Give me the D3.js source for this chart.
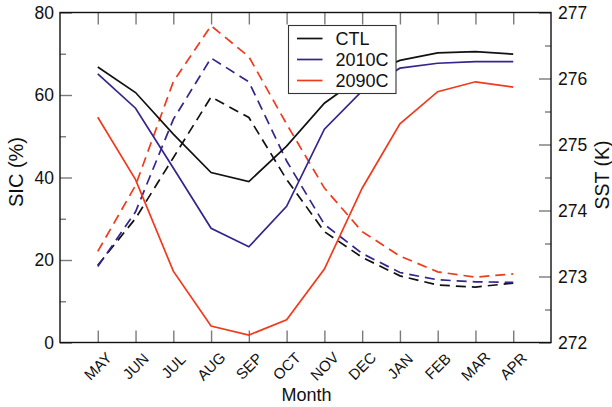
<!DOCTYPE html>
<html>
<head>
<meta charset="utf-8">
<script src="https://cdn.jsdelivr.net/npm/d3@7"></script>
<style>
  html, body { margin: 0; padding: 0; background: #fff; }
  svg { display: block; font-family: "Liberation Sans", Arial, Helvetica, sans-serif; }
</style>
</head>
<body>
<script>
const months = ["MAY","JUN","JUL","AUG","SEP","OCT","NOV","DEC","JAN","FEB","MAR","APR"];
const seriesNames = ["CTL","2010C","2090C"];
const sicCTL  = [66.8, 60.6, 50.5, 41.2, 39.0, 47.6, 58.0, 64.6, 68.4, 70.2, 70.5, 69.9];
const sic2010 = [65.1, 56.8, 42.3, 27.7, 23.2, 33.0, 51.7, 61.0, 66.5, 67.7, 68.1, 68.1];
const sic2090 = [54.6, 39.5, 17.3, 4.0, 1.8, 5.5, 17.8, 37.4, 53.0, 60.8, 63.2, 61.9];
const sstCTL  = [273.17, 273.88, 274.80, 275.72, 275.41, 274.47, 273.68, 273.29, 273.01, 272.87, 272.84, 272.90];
const sst2010 = [273.15, 273.98, 275.38, 276.31, 275.95, 274.75, 273.79, 273.35, 273.06, 272.95, 272.92, 272.91];
const sst2090 = [273.38, 274.38, 275.95, 276.80, 276.33, 275.31, 274.34, 273.68, 273.31, 273.07, 272.99, 273.04];
const sicTicks = [0, 20, 40, 60, 80];
const sicMinor = [10, 30, 50, 70];
const sstTicks = [272, 273, 274, 275, 276, 277];
const sstMinor = [272.5, 273.5, 274.5, 275.5, 276.5];
const colors = ["#111111", "#36238c", "#f03a1c"];

const W = 612, H = 407;
const L = 60, R = 551, T = 12.5, B = 342.5;

const svg = d3.select("body").append("svg").attr("width", W).attr("height", H);

const x = d3.scalePoint().domain(months).range([L, R]).padding(1);
const yL = d3.scaleLinear().domain([0, 80]).range([B, T]);
const yR = d3.scaleLinear().domain([272, 277]).range([B, T]);

const tickColor = "#7a7a7a";
function styleAxis(g) {
  g.select(".domain").remove();
  g.selectAll(".tick line").attr("stroke", tickColor).attr("stroke-width", 1.4);
  g.selectAll(".tick text").attr("fill", "#111").attr("font-size", 17.5)
    .attr("font-family", "'Liberation Sans', Arial, sans-serif");
}

// Left axis
svg.append("g").attr("transform", `translate(${L},0)`)
  .call(d3.axisLeft(yL).tickValues(sicTicks).tickSizeInner(-12).tickSizeOuter(0).tickPadding(6))
  .call(styleAxis);
svg.append("g").attr("transform", `translate(${L},0)`)
  .call(d3.axisLeft(yL).tickValues(sicMinor).tickSizeInner(-6).tickSizeOuter(0).tickFormat(""))
  .call(styleAxis);

// Right axis
svg.append("g").attr("transform", `translate(${R},0)`)
  .call(d3.axisRight(yR).tickValues(sstTicks).tickSizeInner(-12).tickSizeOuter(0).tickPadding(7).tickFormat(d3.format("d")))
  .call(styleAxis);
svg.append("g").attr("transform", `translate(${R},0)`)
  .call(d3.axisRight(yR).tickValues(sstMinor).tickSizeInner(-6).tickSizeOuter(0).tickFormat(""))
  .call(styleAxis);

// Bottom & top x ticks
svg.append("g").attr("transform", `translate(0,${B})`)
  .call(d3.axisBottom(x).tickSizeInner(-12).tickSizeOuter(0).tickFormat(""))
  .call(styleAxis);
svg.append("g").attr("transform", `translate(0,${T})`)
  .call(d3.axisTop(x).tickSizeInner(-12).tickSizeOuter(0).tickFormat(""))
  .call(styleAxis);

// Month labels rotated
svg.append("g").selectAll("text").data(months).join("text")
  .attr("transform", d => `translate(${x(d)},366) rotate(-45)`)
  .attr("text-anchor", "middle")
  .attr("dominant-baseline", "central")
  .attr("font-size", 15)
  .attr("fill", "#111")
  .text(d => d);

// Lines
const sicSeries = [sicCTL, sic2010, sic2090];
const sstSeries = [sstCTL, sst2010, sst2090];
const lineL = d3.line().x((d, i) => x(months[i])).y(d => yL(d));
const lineR = d3.line().x((d, i) => x(months[i])).y(d => yR(d));

const gLines = svg.append("g");
sstSeries.forEach((s, k) => {
  gLines.append("path").datum(s).attr("d", lineR)
    .attr("fill", "none").attr("stroke", colors[k]).attr("stroke-width", 1.7)
    .attr("stroke-dasharray", "10,6");
});
sicSeries.forEach((s, k) => {
  gLines.append("path").datum(s).attr("d", lineL)
    .attr("fill", "none").attr("stroke", colors[k]).attr("stroke-width", 1.7);
});

// Frame
svg.append("rect").attr("x", L).attr("y", T).attr("width", R - L).attr("height", B - T)
  .attr("fill", "none").attr("stroke", "#111").attr("stroke-width", 1.4);

// Axis titles
svg.append("text").attr("transform", `translate(23,172) rotate(-90)`)
  .attr("text-anchor", "middle").attr("font-size", 20).attr("fill", "#111").text("SIC (%)");
svg.append("text").attr("transform", `translate(609,175) rotate(-90)`)
  .attr("text-anchor", "middle").attr("font-size", 19.5).attr("fill", "#111").text("SST (K)");
svg.append("text").attr("x", 306.5).attr("y", 400.5)
  .attr("text-anchor", "middle").attr("font-size", 18).attr("fill", "#111").text("Month");

// Legend
const lg = svg.append("g");
lg.append("rect").attr("x", 288.5).attr("y", 25.5).attr("width", 107.5).attr("height", 68)
  .attr("fill", "#fff").attr("stroke", "#333").attr("stroke-width", 1.1);
const legY = [38.5, 59.5, 80.5];
seriesNames.forEach((n, k) => {
  lg.append("line").attr("x1", 297).attr("x2", 322.5).attr("y1", legY[k]).attr("y2", legY[k])
    .attr("stroke", colors[k]).attr("stroke-width", 1.7);
  lg.append("text").attr("x", 335.5).attr("y", legY[k]).attr("dy", "0.36em")
    .attr("font-size", 18).attr("fill", "#111").text(n);
});
</script>
</body>
</html>
